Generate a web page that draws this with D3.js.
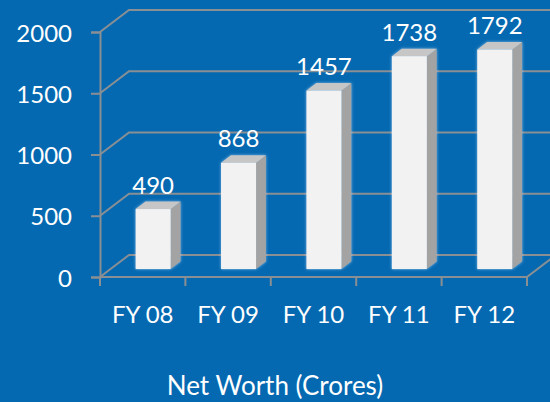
<!DOCTYPE html>
<html>
<head>
<meta charset="utf-8">
<script src="https://cdn.jsdelivr.net/npm/d3@7/dist/d3.min.js"></script>
<style>
  body { margin: 0; background: #0569B1; }
  text { font-family: Lato, "Open Sans", sans-serif; fill: #fff; }
</style>
</head>
<body>
<script>
  var categories = ["FY 08", "FY 09", "FY 10", "FY 11", "FY 12"];
  var netWorth = [490, 868, 1457, 1738, 1792];
  var yTicks = [0, 500, 1000, 1500, 2000];
  var title = "Net Worth (Crores)";

  var width = 550, height = 402;
  // front plane of the plot, and the depth vector of the 3d box
  var plotLeft = 100, plotRight = 527, plotBottom = 277, plotTop = 32;
  var depth = {dx: 29, dy: -22};
  var gridColor = "#8A8F94";

  var svg = d3.select("body").append("svg")
    .attr("width", width)
    .attr("height", height);

  // soft halo round the bars
  var glow = svg.append("defs").append("filter").attr("id", "glow")
    .attr("x", "-20%").attr("y", "-20%").attr("width", "140%").attr("height", "140%");
  glow.append("feDropShadow").attr("dx", 0).attr("dy", 0).attr("stdDeviation", 1.5)
    .attr("flood-color", "#cfe6ff").attr("flood-opacity", 0.6);

  var x = d3.scaleBand().domain(categories).range([plotLeft, plotRight]);
  var y = d3.scaleLinear().domain([0, 2000]).range([plotBottom, plotTop]);

  // side wall diagonals + back wall lines
  var grid = svg.append("g").attr("stroke", gridColor).attr("stroke-width", 2).attr("fill", "none");
  grid.selectAll("path")
    .data(yTicks)
    .enter().append("path")
    .attr("d", function(d) {
      return "M" + plotLeft + "," + y(d) + "L" + (plotLeft + depth.dx) + "," + (y(d) + depth.dy) + "H" + width;
    });
  // floor right edge
  grid.append("path")
    .attr("d", "M" + plotRight + "," + plotBottom + "l" + depth.dx + "," + depth.dy);

  // y axis
  var yAxis = svg.append("g")
    .attr("transform", "translate(" + plotLeft + ",0)")
    .call(d3.axisLeft(y).tickValues(yTicks).tickFormat(d3.format("d")).tickSize(9).tickPadding(19));
  yAxis.select(".domain").attr("stroke", gridColor).attr("stroke-width", 2);
  yAxis.selectAll(".tick line").attr("stroke", gridColor).attr("stroke-width", 2);
  yAxis.selectAll(".tick text").attr("fill", "#fff")
    .style("font-size", "24px").style("font-family", "Lato").attr("dy", "0.38em");

  // category axis, ticks at band edges
  var edges = categories.map(function(c) { return x(c); }).concat([plotRight]);
  svg.append("line")
    .attr("x1", plotLeft).attr("x2", plotRight)
    .attr("y1", plotBottom).attr("y2", plotBottom)
    .attr("stroke", gridColor).attr("stroke-width", 2);
  svg.selectAll(".xtick")
    .data(edges)
    .enter().append("line")
    .attr("class", "xtick")
    .attr("x1", function(d) { return d; }).attr("x2", function(d) { return d; })
    .attr("y1", plotBottom).attr("y2", plotBottom + 9)
    .attr("stroke", gridColor).attr("stroke-width", 2);
  svg.selectAll(".xlabel")
    .data(categories)
    .enter().append("text")
    .attr("class", "xlabel")
    .attr("x", function(d) { return x(d) + x.bandwidth() / 2; })
    .attr("y", 323)
    .attr("text-anchor", "middle")
    .style("font-size", "24px")
    .text(function(d) { return d; });

  // 3d bars
  var barW = x.bandwidth() * 0.41;
  var off = 0.36, thick = 0.34; // bar position/thickness as fraction of depth
  var data = categories.map(function(c, i) { return {cat: c, value: netWorth[i]}; });

  var bars = svg.selectAll(".bar")
    .data(data)
    .enter().append("g")
    .attr("class", "bar");

  function fx(d) { return x(d.cat) + (x.bandwidth() - barW) / 2 + depth.dx * off; }
  function fy0() { return plotBottom + depth.dy * off; }
  function fy1(d) { return y(d.value) + depth.dy * off; }
  var bdx = depth.dx * thick, bdy = depth.dy * thick;

  var box = bars.append("g").attr("filter", "url(#glow)");
  // side
  box.append("path")
    .attr("fill", "#A3A3A3")
    .attr("d", function(d) {
      var x1 = fx(d) + barW;
      return "M" + x1 + "," + fy0() + "L" + x1 + "," + fy1(d) +
        "l" + bdx + "," + bdy + "L" + (x1 + bdx) + "," + (fy0() + bdy) + "Z";
    });
  // top
  box.append("path")
    .attr("fill", "#C6C6C6")
    .attr("d", function(d) {
      var x0 = fx(d), yt = fy1(d);
      return "M" + x0 + "," + yt + "l" + bdx + "," + bdy + "h" + barW + "l" + (-bdx) + "," + (-bdy) + "Z";
    });
  // front
  box.append("rect")
    .attr("fill", "#F2F2F2")
    .attr("x", fx)
    .attr("y", fy1)
    .attr("width", barW)
    .attr("height", function(d) { return fy0() - fy1(d); });

  // value labels
  bars.append("text")
    .attr("x", function(d) { return fx(d) + barW / 2; })
    .attr("y", function(d) { return fy1(d) + bdy - 8; })
    .attr("text-anchor", "middle")
    .style("font-size", "24px")
    .text(function(d) { return d.value; });

  svg.append("text")
    .attr("x", 275)
    .attr("y", 395)
    .attr("text-anchor", "middle")
    .style("font-size", "26px")
    .text(title);
</script>
</body>
</html>
